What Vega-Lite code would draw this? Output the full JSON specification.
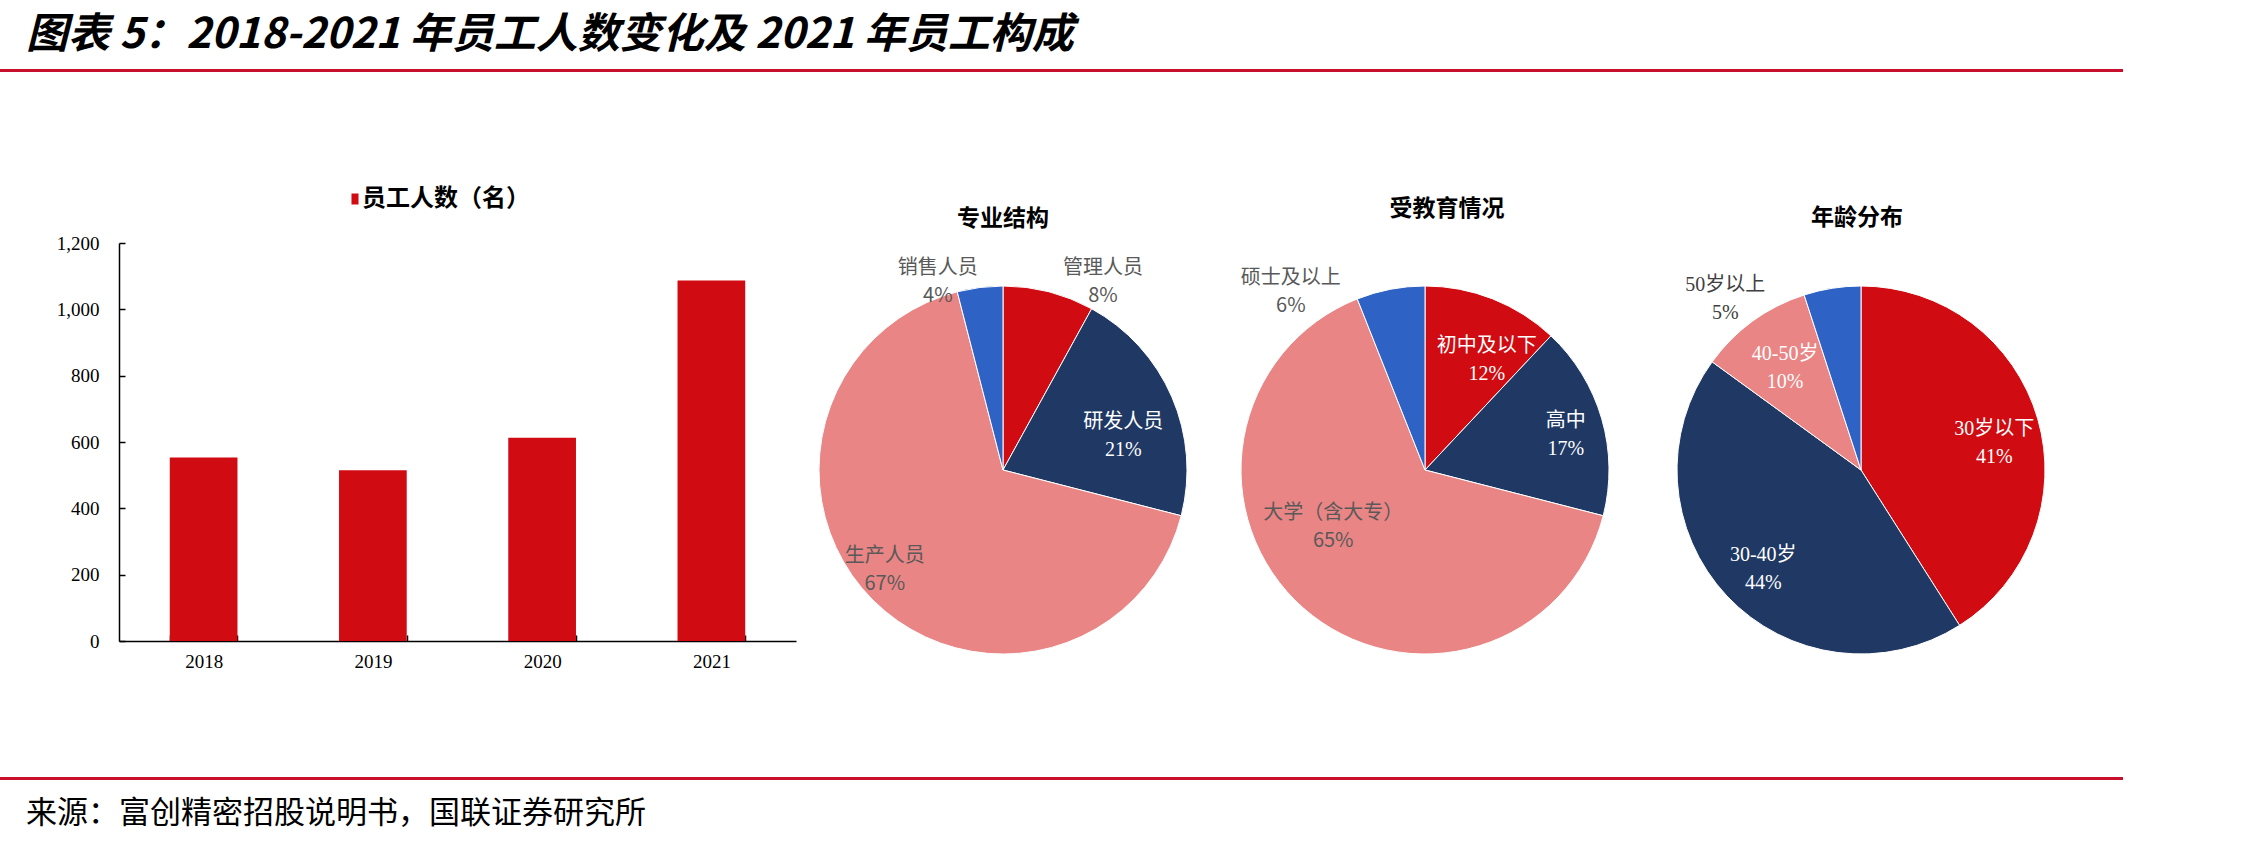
{
  "$schema": "https://vega.github.io/schema/vega-lite/v6.json",
  "background": "white",
  "padding": {"left": 0, "top": 13, "right": 0, "bottom": 10},
  "autosize": {"type": "pad"},
  "config": {"view": {"stroke": null}, "font": "Noto Sans CJK SC"},
  "bounds": "flush",
  "spacing": 0,
  "vconcat": [
    {
      "width": 2123, "height": 3,
      "view": {"fill": "#C8102E", "stroke": null},
      "title": {"text": "图表 5：2018-2021 年员工人数变化及 2021 年员工构成", "anchor": "start", "dx": 26, "offset": 8, "font": "Noto Sans CJK SC", "fontSize": 42, "fontWeight": "bold", "fontStyle": "italic", "color": "#000000"},
      "data": {"values": [{}]},
      "mark": {"type": "text", "text": ""},
      "encoding": {}
    },
    {
      "width": 10, "height": 171,
      "data": {"values": [{}]},
      "mark": {"type": "text", "text": ""},
      "encoding": {}
    },
    {
      "bounds": "flush",
      "spacing": 0,
      "resolve": {"scale": {"color": "independent", "theta": "independent"}},
      "hconcat": [
        {
          "width": 119, "height": 454,
          "data": {"values": [{}]},
          "mark": {"type": "text", "text": ""},
          "encoding": {}
        },
        {
          "width": 677, "height": 398,
          "data": {"values": [
            {"year": "2018", "count": 553},
            {"year": "2019", "count": 515},
            {"year": "2020", "count": 613},
            {"year": "2021", "count": 1087}
          ]},
          "mark": {"type": "bar"},
          "encoding": {
            "x": {"field": "year", "type": "ordinal", "scale": {"paddingInner": 0.6, "paddingOuter": 0.3},
              "axis": {"title": null, "labelAngle": 0, "tickBand": "extent", "tickSize": -6, "tickColor": "#000000", "tickWidth": 1.5, "domainColor": "#000000", "domainWidth": 1.5, "labelPadding": 17, "labelFont": "Liberation Serif", "labelFontSize": 19, "labelColor": "#000000", "labelBaseline": "top"}},
            "y": {"field": "count", "type": "quantitative", "scale": {"domain": [0, 1200]},
              "axis": {"title": null, "values": [0, 200, 400, 600, 800, 1000, 1200], "format": ",.0f", "grid": false, "tickSize": -6, "tickColor": "#000000", "tickWidth": 1.5, "domainColor": "#000000", "domainWidth": 1.5, "labelPadding": 26, "labelFont": "Liberation Serif", "labelFontSize": 19, "labelColor": "#000000"}},
            "color": {"datum": "员工人数（名）", "type": "nominal", "scale": {"range": ["#D00B12"]},
              "legend": {"orient": "none", "legendX": 224, "legendY": -56, "title": null, "padding": 0, "symbolType": "M-0.64,-1H0.64V1H-0.64Z", "symbolSize": 121, "symbolStrokeWidth": 0, "labelFont": "Noto Sans CJK SC", "labelFontSize": 24, "labelFontWeight": "bold", "labelColor": "#000000", "labelOffset": -5, "labelLimit": 500}}
          }
        },
        {
          "width": 414, "height": 454,
          "title": {"text": "专业结构", "fontSize": 23, "fontWeight": "bold", "color": "#000000", "offset": 3, "anchor": "middle"},
          "data": {"values": [
            {"name": "管理人员", "pct": 8, "k": 1},
            {"name": "研发人员", "pct": 21, "k": 2},
            {"name": "生产人员", "pct": 67, "k": 3},
            {"name": "销售人员", "pct": 4, "k": 4}
          ]},
          "transform": [{"calculate": "datum.name + '\\n' + datum.pct + '%'", "as": "label"}],
          "encoding": {
            "theta": {"field": "pct", "type": "quantitative", "stack": true},
            "order": {"field": "k", "type": "quantitative"}
          },
          "layer": [
            {"mark": {"type": "arc", "outerRadius": 184, "stroke": "#ffffff", "strokeWidth": 1},
             "encoding": {"color": {"field": "name", "type": "nominal", "scale": {"domain": ["管理人员", "研发人员", "生产人员", "销售人员"], "range": ["#D00B12", "#1F3864", "#EA8585", "#2E62C5"]}, "legend": null}}},
            {"mark": {"type": "text", "radius": 213, "thetaOffset": 0.237, "dy": -14, "lineBreak": "\n", "lineHeight": 28, "fontSize": 20, "font": "Noto Sans CJK SC", "fill": "#595959"},
             "encoding": {"text": {"condition": {"test": "datum.name === '管理人员'", "field": "label"}, "value": ""}}},
            {"mark": {"type": "text", "radius": 125, "thetaOffset": 0.133, "dy": -14, "lineBreak": "\n", "lineHeight": 28, "fontSize": 20, "font": "Liberation Serif, Noto Sans CJK SC", "fill": "#ffffff"},
             "encoding": {"text": {"condition": {"test": "datum.name === '研发人员'", "field": "label"}, "value": ""}}},
            {"mark": {"type": "text", "radius": 155, "thetaOffset": 0.082, "dy": -14, "lineBreak": "\n", "lineHeight": 28, "fontSize": 20, "font": "Noto Sans CJK SC", "fill": "#595959"},
             "encoding": {"text": {"condition": {"test": "datum.name === '生产人员'", "field": "label"}, "value": ""}}},
            {"mark": {"type": "text", "radius": 199, "thetaOffset": -0.208, "dy": -14, "lineBreak": "\n", "lineHeight": 28, "fontSize": 20, "font": "Noto Sans CJK SC", "fill": "#595959"},
             "encoding": {"text": {"condition": {"test": "datum.name === '销售人员'", "field": "label"}, "value": ""}}}
          ]
        },
        {
          "width": 430, "height": 454,
          "title": {"text": "受教育情况", "fontSize": 23, "fontWeight": "bold", "color": "#000000", "offset": 3, "anchor": "middle", "dx": 22},
          "data": {"values": [
            {"name": "初中及以下", "pct": 12, "k": 1},
            {"name": "高中", "pct": 17, "k": 2},
            {"name": "大学（含大专）", "pct": 65, "k": 3},
            {"name": "硕士及以上", "pct": 6, "k": 4}
          ]},
          "transform": [{"calculate": "datum.name + '\\n' + datum.pct + '%'", "as": "label"}],
          "encoding": {
            "theta": {"field": "pct", "type": "quantitative", "stack": true},
            "order": {"field": "k", "type": "quantitative"}
          },
          "layer": [
            {"mark": {"type": "arc", "outerRadius": 184, "stroke": "#ffffff", "strokeWidth": 1},
             "encoding": {"color": {"field": "name", "type": "nominal", "scale": {"domain": ["初中及以下", "高中", "大学（含大专）", "硕士及以上"], "range": ["#D00B12", "#1F3864", "#EA8585", "#2E62C5"]}, "legend": null}}},
            {"mark": {"type": "text", "radius": 126, "thetaOffset": 0.136, "dy": -14, "lineBreak": "\n", "lineHeight": 28, "fontSize": 20, "font": "Liberation Serif, Noto Sans CJK SC", "fill": "#ffffff"},
             "encoding": {"text": {"condition": {"test": "datum.name === '初中及以下'", "field": "label"}, "value": ""}}},
            {"mark": {"type": "text", "radius": 145, "thetaOffset": 0.04, "dy": -14, "lineBreak": "\n", "lineHeight": 28, "fontSize": 20, "font": "Liberation Serif, Noto Sans CJK SC", "fill": "#ffffff"},
             "encoding": {"text": {"condition": {"test": "datum.name === '高中'", "field": "label"}, "value": ""}}},
            {"mark": {"type": "text", "radius": 108, "thetaOffset": 0.293, "dy": -14, "lineBreak": "\n", "lineHeight": 28, "fontSize": 20, "font": "Noto Sans CJK SC", "fill": "#595959"},
             "encoding": {"text": {"condition": {"test": "datum.name === '大学（含大专）'", "field": "label"}, "value": ""}}},
            {"mark": {"type": "text", "radius": 223, "thetaOffset": -0.457, "dy": -14, "lineBreak": "\n", "lineHeight": 28, "fontSize": 20, "font": "Noto Sans CJK SC", "fill": "#595959"},
             "encoding": {"text": {"condition": {"test": "datum.name === '硕士及以上'", "field": "label"}, "value": ""}}}
          ]
        },
        {
          "width": 442, "height": 454,
          "title": {"text": "年龄分布", "fontSize": 23, "fontWeight": "bold", "color": "#000000", "offset": 13, "anchor": "middle", "dx": -4},
          "data": {"values": [
            {"name": "30岁以下", "pct": 41, "k": 1},
            {"name": "30-40岁", "pct": 44, "k": 2},
            {"name": "40-50岁", "pct": 10, "k": 3},
            {"name": "50岁以上", "pct": 5, "k": 4}
          ]},
          "transform": [{"calculate": "datum.name + '\\n' + datum.pct + '%'", "as": "label"}],
          "encoding": {
            "theta": {"field": "pct", "type": "quantitative", "stack": true},
            "order": {"field": "k", "type": "quantitative"}
          },
          "layer": [
            {"mark": {"type": "arc", "outerRadius": 184, "stroke": "#ffffff", "strokeWidth": 1},
             "encoding": {"color": {"field": "name", "type": "nominal", "scale": {"domain": ["30岁以下", "30-40岁", "40-50岁", "50岁以上"], "range": ["#D00B12", "#1F3864", "#EA8585", "#2E62C5"]}, "legend": null}}},
            {"mark": {"type": "text", "radius": 136, "thetaOffset": 0.082, "dy": -14, "lineBreak": "\n", "lineHeight": 28, "fontSize": 20, "font": "Liberation Serif, Noto Sans CJK SC", "fill": "#ffffff"},
             "encoding": {"text": {"condition": {"test": "datum.name === '30岁以下'", "field": "label"}, "value": ""}}},
            {"mark": {"type": "text", "radius": 139, "thetaOffset": -0.037, "dy": -14, "lineBreak": "\n", "lineHeight": 28, "fontSize": 20, "font": "Liberation Serif, Noto Sans CJK SC", "fill": "#ffffff"},
             "encoding": {"text": {"condition": {"test": "datum.name === '30-40岁'", "field": "label"}, "value": ""}}},
            {"mark": {"type": "text", "radius": 127, "thetaOffset": -0.012, "dy": -14, "lineBreak": "\n", "lineHeight": 28, "fontSize": 20, "font": "Liberation Serif, Noto Sans CJK SC", "fill": "#ffffff"},
             "encoding": {"text": {"condition": {"test": "datum.name === '40-50岁'", "field": "label"}, "value": ""}}},
            {"mark": {"type": "text", "radius": 218, "thetaOffset": -0.515, "dy": -14, "lineBreak": "\n", "lineHeight": 28, "fontSize": 20, "font": "Liberation Serif, Noto Sans CJK SC", "fill": "#404040"},
             "encoding": {"text": {"condition": {"test": "datum.name === '50岁以上'", "field": "label"}, "value": ""}}}
          ]
        }
      ]
    },
    {
      "width": 10, "height": 534,
      "data": {"values": [{}]},
      "mark": {"type": "text", "text": ""},
      "encoding": {}
    },
    {
      "width": 2123, "height": 3,
      "view": {"fill": "#C8102E", "stroke": null},
      "title": {"text": "来源：富创精密招股说明书，国联证券研究所", "orient": "bottom", "anchor": "start", "dx": 26, "offset": 15, "font": "Noto Sans CJK SC", "fontSize": 31, "fontWeight": "normal", "color": "#000000"},
      "data": {"values": [{}]},
      "mark": {"type": "text", "text": ""},
      "encoding": {}
    }
  ]
}
